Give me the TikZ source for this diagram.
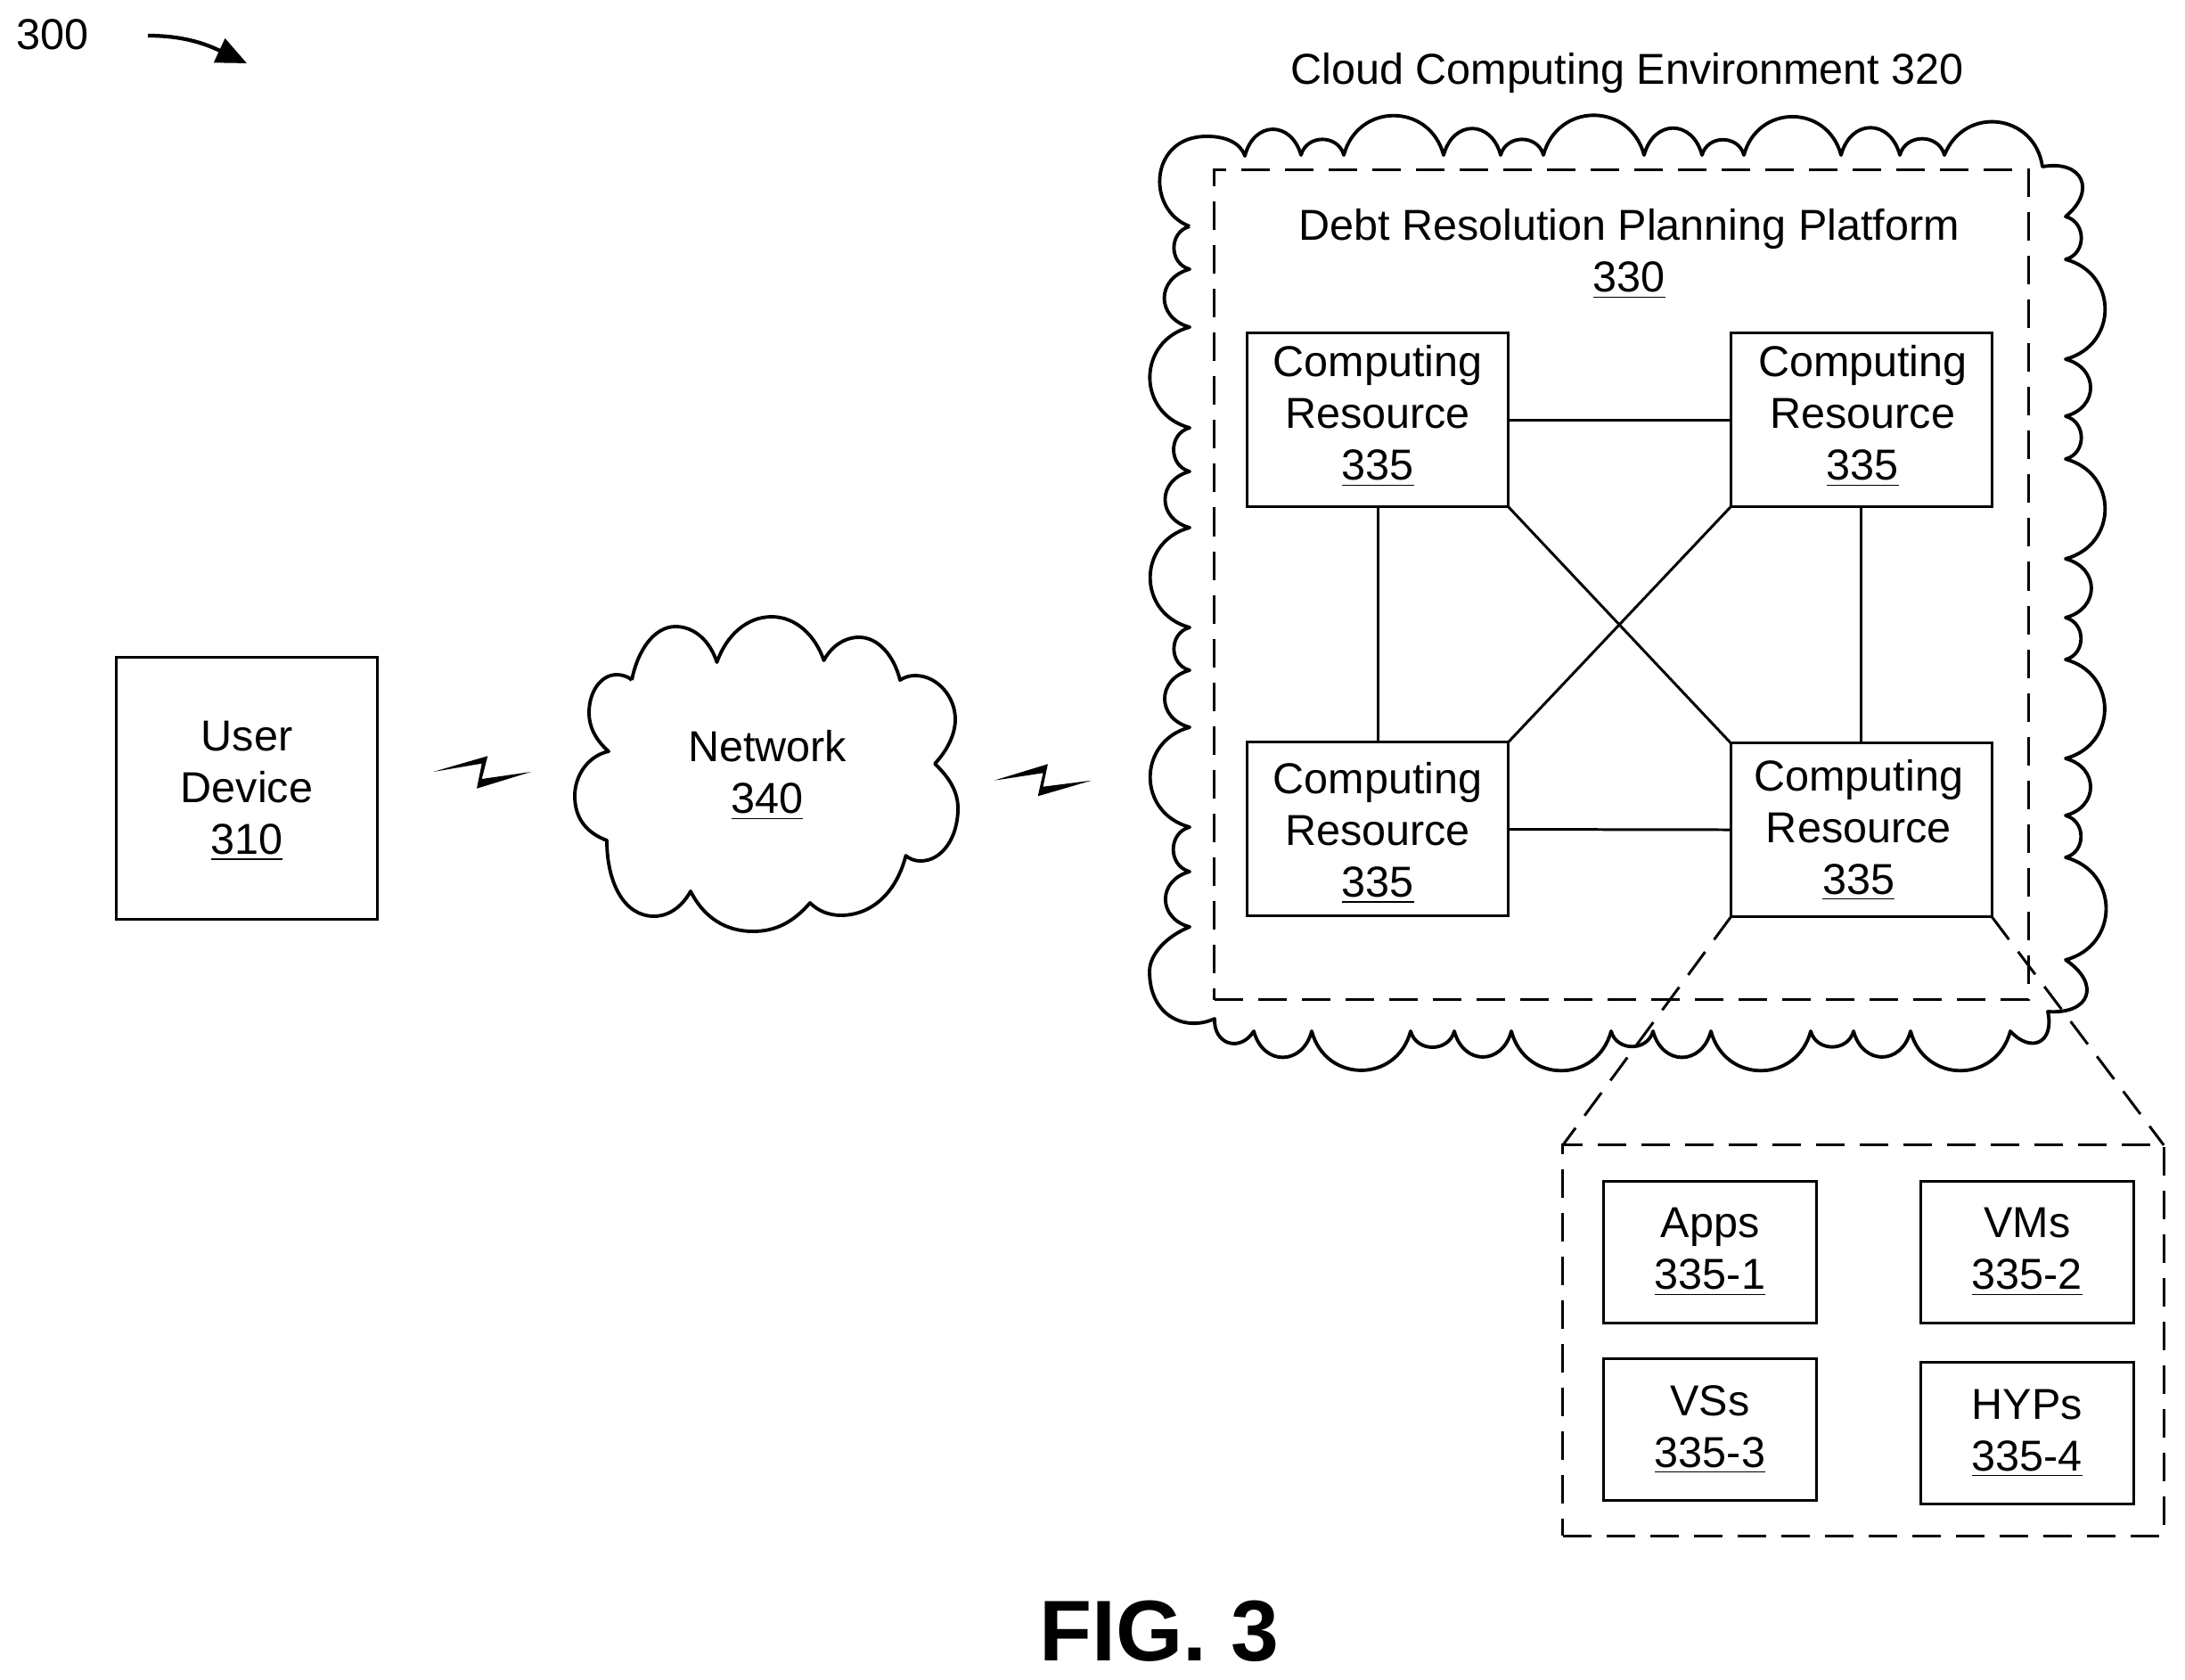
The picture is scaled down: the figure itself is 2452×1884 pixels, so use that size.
\documentclass[tikz,border=0pt]{standalone}
\usepackage{fontspec}
\setmainfont{Liberation Sans}
\usetikzlibrary{arrows.meta}
\newcommand{\restext}{Computing\\Resource\\\underline{335}}

\begin{document}
\begin{tikzpicture}[x=0.01cm,y=-0.01cm,node distance=5.425cm,line width=0.85pt,
    main text/.style={font=\fontsize{13.8}{16.5}\selectfont,align=center,inner sep=0pt,outer sep=0pt},
    res box/.style={main text,rectangle,draw,minimum width=2.925cm,minimum height=1.945cm},
    res text/.style 2 args={label={[main text,xshift=#1,yshift=#2]center:\restext}},
    small box/.style={main text,rectangle,draw,minimum width=2.385cm,minimum height=1.585cm},
    dash box/.style={rectangle,draw,dash pattern=on 0.32cm off 0.17cm,inner sep=0pt,outer sep=0pt},
    cloud line/.style={line width=1.1pt,line join=round},
    lobe/.style={bend left=75,looseness=#1},
    lobe big/.style={lobe=1.4},
    lobe mid/.style={lobe=1.55},
    lobe low/.style={lobe=1.3}]

    \node[main text] (300) at (59,39) {300};
    \coordinate (300a) at (166,40);
    \coordinate (300b) at (277,71);
    \draw[line width=1.2pt,-{Stealth[length=0.34cm,width=0.29cm,inset=0pt]}] (300a) to[out=0,in=155] (300b);

    \node[main text] (320) at (1826,82) {Cloud Computing Environment 320};

    % outer cloud
    \draw[cloud line] (1335,254) .. controls (1285,235) and (1290,152) .. (1355,153)
        .. controls (1375,153) and (1392,160) .. (1397,175)
        to[lobe=1.65] (1460,174) to[lobe low] (1508,174) to[lobe big] (1620,174)
        to[lobe=1.65] (1684,174) to[lobe low] (1732,174) to[lobe big] (1845,174)
        to[lobe=1.65] (1910,174) to[lobe low] (1957,174) to[lobe big] (2066,174)
        to[lobe=1.65] (2132,174) to[lobe low] (2182,174) to[lobe big] (2292,187)
        to[lobe=1.9] (2318,243)
        to[lobe low] (2318,291) to[lobe big] (2318,403) to[lobe mid] (2318,467)
        to[lobe low] (2318,515) to[lobe big] (2318,627) to[lobe mid] (2318,693)
        to[lobe low] (2318,740) to[lobe big] (2318,851) to[lobe mid] (2318,915)
        to[lobe low] (2318,962) to[lobe big] (2318,1077)
        to[lobe=2] (2298,1135) to[lobe=1.9] (2256,1157)
        to[lobe big] (2144,1157) to[lobe=1.6] (2080,1157) to[lobe low] (2032,1157)
        to[lobe big] (1920,1157) to[lobe=1.6] (1855,1157) to[lobe low] (1808,1157)
        to[lobe big] (1696,1157) to[lobe=1.6] (1632,1157) to[lobe low] (1583,1157)
        to[lobe big] (1472,1157) to[lobe=1.6] (1407,1157) to[lobe=1.6] (1363,1143)
        .. controls (1330,1158) and (1290,1140) .. (1290,1090)
        .. controls (1290,1070) and (1310,1050) .. (1335,1040)
        to[lobe mid] (1335,978) to[lobe low] (1335,928) to[lobe big] (1335,816)
        to[lobe mid] (1335,752) to[lobe low] (1335,704) to[lobe big] (1335,592)
        to[lobe mid] (1335,529) to[lobe low] (1335,480) to[lobe big] (1335,367)
        to[lobe mid] (1335,302) to[lobe low] (1335,254);

    \node[dash box,minimum width=9.13cm,minimum height=9.31cm] (330) at (1819.5,656) {};
    \node[main text] (330t) at (1828,285) {Debt Resolution Planning Platform\\\underline{330}};

    \node[res box,res text={0cm}{0.04cm}] (335a) at (1546,471) {};
    \node[res box,res text={0.015cm}{0.04cm}] (335b) [right of=335a] {};
    \node[res box,res text={0cm}{-0.045cm}] (335c) [below of=335a, node distance=4.59cm] {};
    \node[res box,res text={-0.03cm}{0cm}] (335d) [below of=335b, node distance=4.6cm] {};

    \path
        (335a) edge (335b)
        (335a) edge (335c)
        (335b) edge (335d)
        (335c) edge (335d)
        (335a.south east) edge (335d.north west)
        (335b.south west) edge (335c.north east);

    \node[dash box,minimum width=6.74cm,minimum height=4.38cm] (335z) at (2091,1504) {};
    \path[dash pattern=on 0.32cm off 0.17cm]
        (335d.south west) edge (335z.north west)
        (335d.south east) edge (335z.north east);

    \node[small box] (335-1) at (1919,1405) {Apps\\\underline{335-1}};
    \node[small box] (335-2) [right of=335-1, node distance=3.555cm] {VMs\\\underline{335-2}};
    \node[small box] (335-3) [below of=335-1, node distance=1.99cm] {VSs\\\underline{335-3}};
    \node[small box] (335-4) [below of=335-2, node distance=2.03cm] {HYPs\\\underline{335-4}};

    \node[main text,rectangle,draw,minimum width=2.92cm,minimum height=2.93cm,
        label={[main text,yshift=-0.03cm]center:User\\Device\\\underline{310}}] (310) at (277,884.5) {};

    % network cloud
    \node[main text] (340) at (861,870) {Network\\\underline{340}};
    \draw[cloud line] (709,763) .. controls (716,728) and (735,703) .. (758,703)
        .. controls (780,703) and (797,720) .. (804.5,743)
        .. controls (815,713) and (838,692) .. (866,692)
        .. controls (893,692) and (915,713) .. (924.5,741)
        .. controls (933,725) and (948,715) .. (964,715)
        .. controls (985,715) and (1003,735) .. (1010,763)
        .. controls (1015,760) and (1020,758) .. (1027,758)
        .. controls (1052,758) and (1072,782) .. (1072,807)
        .. controls (1072,825) and (1062,843) .. (1049,857)
        .. controls (1065,872) and (1075,888) .. (1075,907)
        .. controls (1075,940) and (1057,966) .. (1033,966)
        .. controls (1027,966) and (1021,964) .. (1016.5,960)
        .. controls (1005,1005) and (975,1027) .. (944,1027)
        .. controls (930,1027) and (918,1022) .. (909,1013)
        .. controls (890,1035) and (870,1045) .. (845,1045)
        .. controls (815,1045) and (790,1030) .. (775,1000)
        .. controls (765,1018) and (750,1028) .. (734,1028)
        .. controls (700,1028) and (681,990) .. (681,943)
        .. controls (660,935) and (645,920) .. (645,893)
        .. controls (645,870) and (660,848) .. (683,843)
        .. controls (668,830) and (661,815) .. (661,800)
        .. controls (661,775) and (675,757) .. (692,757)
        .. controls (698,757) and (705,759) .. (709,763);

    % lightning bolts
    \fill (486,866) -- (547.3,848.3) -- (540.7,874) -- (596,866) -- (535,884.7) -- (540.7,856.7) -- cycle;
    \fill (1115.6,875.7) -- (1175.9,857.3) -- (1170.5,882.7) -- (1225,875.7) -- (1164.7,893.3) -- (1170.5,867.3) -- cycle;

    \node[font=\fontsize{27.5}{30}\selectfont\bfseries,inner sep=0pt] (fig) at (1301,1830) {FIG. 3};

    \useasboundingbox (0,0) rectangle (2452,1884);
\end{tikzpicture}
\end{document}
